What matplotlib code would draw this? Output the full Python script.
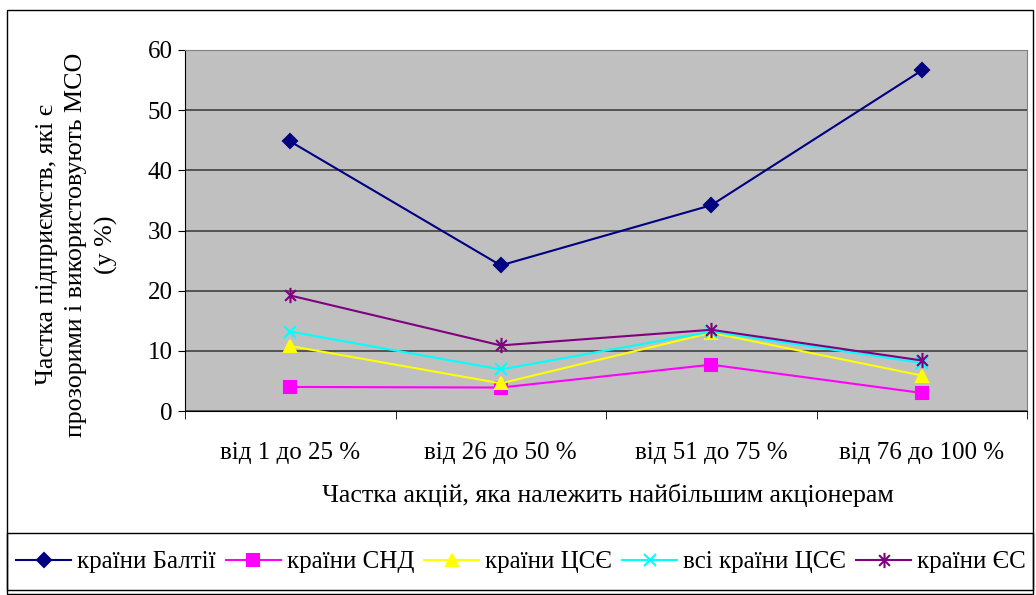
import numpy as np
import matplotlib
matplotlib.use('Agg')
import matplotlib.pyplot as plt
from matplotlib.path import Path
from matplotlib.patches import Rectangle

plt.rcParams['font.family'] = ['Liberation Serif', 'DejaVu Serif']
FS = 18
FS_TITLE = 18.7

categories = ['від 1 до 25 %', 'від 26 до 50 %', 'від 51 до 75 %', 'від 76 до 100 %']
baltic = [44.8, 24.2, 34.2, 56.6]
cis = [4.0, 3.9, 7.7, 3.0]
cee = [10.8, 4.6, 13.0, 5.9]
all_cee = [13.2, 6.9, 13.2, 8.0]
eu = [19.2, 10.9, 13.5, 8.4]

labels = ['країни Балтії', 'країни СНД', 'країни ЦСЄ', 'всі країни ЦСЄ', 'країни ЄС']
yticks = [0, 10, 20, 30, 40, 50, 60]

# excel-style asterisk: an X with a vertical bar
d = 0.7071
asterisk = Path([(-d, -d), (d, d), (-d, d), (d, -d), (0, -1), (0, 1)],
                [Path.MOVETO, Path.LINETO, Path.MOVETO, Path.LINETO,
                 Path.MOVETO, Path.LINETO])

series = [
    (baltic, '#000080', 'D', 7),
    (cis, '#FF00FF', 's', 8),
    (cee, '#FFFF00', '^', 9),
    (all_cee, '#00FFFF', 'x', 9),
    (eu, '#800080', asterisk, 11),
]

W, H = 1036, 595
fig = plt.figure(figsize=(W / 100, H / 100), dpi=100)
ax = fig.add_axes([185 / W, 1 - 411 / H, 842 / W, 361 / H])
ax.set_facecolor('#C0C0C0')

x = np.arange(len(categories))
for (vals, col, mk, ms), lab in zip(series, labels):
    ax.plot(x, vals, color=col, lw=1.5, marker=mk, markersize=ms,
            markerfacecolor=col, markeredgecolor=col, markeredgewidth=1.5,
            label=lab, clip_on=False)

ax.set_xlim(-0.5, len(categories) - 0.5)
ax.set_ylim(0, 60)
ax.set_yticks(yticks)
ax.tick_params(axis='y', labelsize=FS, length=5, direction='out', pad=4)
ax.yaxis.grid(True, color='#404040', lw=1.2)
ax.set_axisbelow(True)

ax.set_xticks(x)
ax.set_xticklabels(categories, fontsize=FS)
ax.tick_params(axis='x', length=0, pad=22)
ax.set_xticks(np.arange(-0.5, len(categories)), minor=True)
ax.tick_params(axis='x', which='minor', length=6, direction='out', color='black')

for s in ['top', 'right']:
    ax.spines[s].set_color('#808080')
for s in ['left', 'bottom']:
    ax.spines[s].set_color('black')

# axis titles placed in pixels like the excel chart
fig.text(608 / W, 1 - 495 / H, 'Частка акцій, яка належить найбільшим акціонерам',
         fontsize=FS_TITLE, ha='center', va='center')
fig.text(77 / W, 1 - 245 / H,
         'Частка підприємств, які є\nпрозорими і використовують МСО\n(у %)',
         fontsize=FS_TITLE, ha='center', va='center', rotation=90,
         multialignment='center', linespacing=1.45)

leg = fig.legend(loc='center', bbox_to_anchor=(521 / W, 1 - 562 / H),
                 ncol=5, fontsize=FS, frameon=False,
                 handlelength=2.2, handletextpad=0.24,
                 columnspacing=0.4, borderpad=0, borderaxespad=0)

# legend box and outer chart border
fig.patches.append(Rectangle((7 / W, 1 - 590 / H), 1026 / W, 57 / H,
                             transform=fig.transFigure, fill=False,
                             edgecolor='black', lw=1.0))
fig.patches.append(Rectangle((7 / W, 1 - 594 / H), 1026 / W, 584 / H,
                             transform=fig.transFigure, fill=False,
                             edgecolor='black', lw=1.0))

fig.savefig('out.png', dpi=100)
